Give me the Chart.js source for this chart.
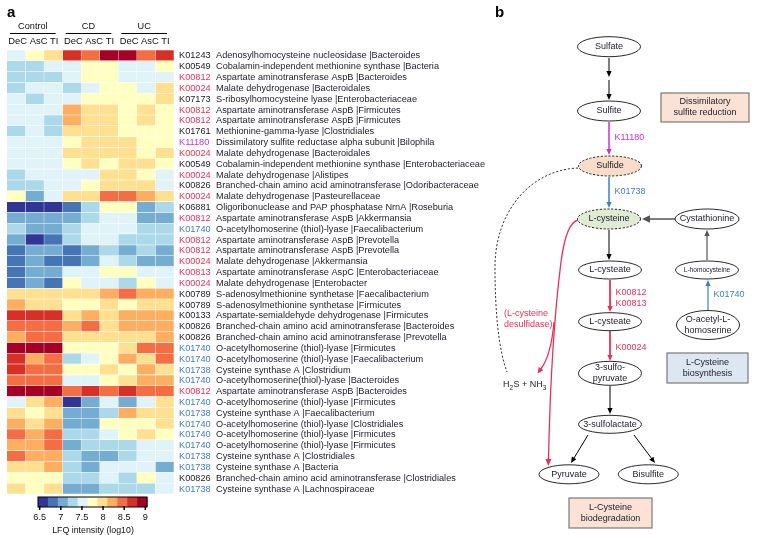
<!DOCTYPE html>
<html>
<head>
<meta charset="utf-8">
<script src="https://cdn.jsdelivr.net/npm/chart.js@4.4.1/dist/chart.umd.min.js"></script>
<style>
  html, body { margin: 0; padding: 0; background: #fff; }
  #wrap { position: relative; width: 775px; height: 535px; }
  #heat { position: absolute; left: 0; top: 0; }
  #path { position: absolute; left: 490px; top: 0; }
</style>
</head>
<body>
<div id="wrap">
  <canvas id="heat" width="490" height="535"></canvas>
  <canvas id="path" width="285" height="535"></canvas>
</div>
<script>
// Columnas de la matriz (log10 LFQ intensity)
const groups = ['Control', 'CD', 'UC'];
const sites = ['DeC', 'AsC', 'TI'];

const rowKO = ['K01243','K00549','K00812','K00024','K07173','K00812','K00812','K01761','K11180','K00024',
  'K00549','K00024','K00826','K00024','K06881','K00812','K01740','K00812','K00812','K00024',
  'K00813','K00024','K00789','K00789','K00133','K00826','K00826','K01740','K01740','K01738',
  'K01740','K00812','K01740','K01738','K01740','K01740','K01740','K01738','K01738','K00826','K01738'];

const rowNames = [
  'Adenosylhomocysteine nucleosidase |Bacteroides',
  'Cobalamin-independent methionine synthase |Bacteria',
  'Aspartate aminotransferase AspB |Bacteroides',
  'Malate dehydrogenase |Bacteroidales',
  'S-ribosylhomocysteine lyase |Enterobacteriaceae',
  'Aspartate aminotransferase AspB |Firmicutes',
  'Aspartate aminotransferase AspB |Firmicutes',
  'Methionine-gamma-lyase |Clostridiales',
  'Dissimilatory sulfite reductase alpha subunit |Bilophila',
  'Malate dehydrogenase |Bacteroidales',
  'Cobalamin-independent methionine synthase |Enterobacteriaceae',
  'Malate dehydrogenase |Alistipes',
  'Branched-chain amino acid aminotransferase |Odoribacteraceae',
  'Malate dehydrogenase |Pasteurellaceae',
  'Oligoribonuclease and PAP phosphatase NrnA |Roseburia',
  'Aspartate aminotransferase AspB |Akkermansia',
  'O-acetylhomoserine (thiol)-lyase |Faecalibacterium',
  'Aspartate aminotransferase AspB |Prevotella',
  'Aspartate aminotransferase AspB |Prevotella',
  'Malate dehydrogenase |Akkermansia',
  'Aspartate aminotransferase AspC |Enterobacteriaceae',
  'Malate dehydrogenase |Enterobacter',
  'S-adenosylmethionine synthetase |Faecalibacterium',
  'S-adenosylmethionine synthetase |Firmicutes',
  'Aspartate-semialdehyde dehydrogenase |Firmicutes',
  'Branched-chain amino acid aminotransferase |Bacteroides',
  'Branched-chain amino acid aminotransferase |Prevotella',
  'O-acetylhomoserine (thiol)-lyase |Firmicutes',
  'O-acetylhomoserine (thiol)-lyase |Faecalibacterium',
  'Cysteine synthase A |Clostridium',
  'O-acetylhomoserine(thiol)-lyase |Bacteroides',
  'Aspartate aminotransferase AspB |Bacteroides',
  'O-acetylhomoserine (thiol)-lyase |Firmicutes',
  'Cysteine synthase A |Faecalibacterium',
  'O-acetylhomoserine (thiol)-lyase |Clostridiales',
  'O-acetylhomoserine (thiol)-lyase |Firmicutes',
  'O-acetylhomoserine (thiol)-lyase |Firmicutes',
  'Cysteine synthase A |Clostridiales',
  'Cysteine synthase A |Bacteria',
  'Branched-chain amino acid aminotransferase |Clostridiales',
  'Cysteine synthase A |Lachnospiraceae'
];

const controlDeC = [7.5,7.3,7.3,7.3,7.5,7.5,7.5,7.3,7.5,7.5,7.5,7.3,7.3,7.75,6.6,7.05,7.3,7.05,6.85,6.85,6.85,6.85,8.0,8.2,8.65,8.45,8.2,8.9,8.65,8.65,8.45,8.9,7.5,8.0,8.2,8.45,8.2,8.45,8.0,7.75,8.0];
const controlAsC = [7.75,7.3,7.3,7.5,7.3,7.5,7.5,7.5,7.5,7.5,7.5,7.5,7.3,7.05,6.6,7.05,7.05,6.6,7.05,7.05,7.05,7.05,8.0,8.0,8.65,8.45,8.45,8.9,8.2,8.45,8.45,8.9,8.0,7.75,8.0,8.2,8.2,8.2,8.0,7.75,7.75];
const controlTI  = [8.0,7.5,7.3,7.5,7.5,7.5,7.3,7.3,7.5,7.5,7.5,7.5,7.5,7.5,6.6,7.05,7.05,6.85,7.05,6.85,7.05,6.85,8.0,8.0,8.65,8.45,8.45,8.9,8.45,8.45,8.45,8.9,8.2,8.0,8.2,8.45,8.45,8.2,8.2,7.75,8.0];
const cdDeC = [8.65,7.5,7.5,7.3,7.5,8.2,8.2,8.0,7.75,8.0,7.75,7.5,7.5,8.0,6.85,7.05,7.3,7.3,6.85,6.85,7.5,7.75,8.0,7.75,8.0,8.2,8.0,7.75,7.3,7.75,7.5,8.45,6.6,7.05,7.05,7.3,7.05,7.3,7.3,7.3,7.05];
const cdAsC = [8.45,7.75,7.75,7.5,7.75,8.0,8.0,8.0,8.0,8.0,8.0,7.5,7.75,8.0,7.3,7.3,7.5,7.5,7.05,7.05,7.5,7.5,8.0,7.75,8.2,8.45,8.0,7.75,7.5,7.75,7.5,8.65,7.05,7.05,7.05,7.3,7.3,7.05,7.05,7.3,7.05];
const cdTI  = [8.9,7.75,7.75,7.75,7.75,8.0,8.0,8.0,8.0,8.0,7.75,8.0,8.0,8.45,7.75,7.5,7.5,7.5,7.3,7.5,7.75,7.5,8.2,8.0,8.0,8.0,8.0,7.75,7.75,8.0,7.75,8.45,7.5,7.3,7.75,7.5,7.3,7.05,7.5,7.5,7.3];
const ucDeC = [8.9,7.5,7.5,7.75,7.75,7.75,7.75,7.75,8.0,8.0,8.0,8.0,8.0,8.45,7.75,7.5,7.5,7.3,7.05,7.3,7.75,7.3,8.45,7.75,8.2,8.2,8.0,8.0,8.2,7.75,8.0,8.65,7.05,8.2,7.75,7.75,7.3,7.3,7.5,7.3,7.3];
const ucAsC = [8.45,7.5,7.5,7.5,7.75,8.0,8.0,7.75,7.75,7.75,8.0,7.75,8.0,8.2,7.05,7.05,7.3,7.3,7.3,7.05,7.5,7.75,8.2,8.0,8.2,8.2,8.0,8.45,8.0,8.2,8.2,8.45,7.5,8.0,7.75,8.0,7.5,7.5,7.5,7.75,7.3];
const ucTI  = [8.65,7.75,7.5,8.0,8.0,7.75,7.75,7.75,7.75,8.0,7.75,7.5,7.5,8.0,7.3,7.05,7.3,7.3,7.05,7.05,7.5,7.5,8.2,8.0,8.2,8.2,8.2,8.45,8.45,8.0,8.2,8.45,8.0,8.0,8.0,7.75,7.5,7.5,7.05,7.5,7.5];

const columns = [controlDeC, controlAsC, controlTI, cdDeC, cdAsC, cdTI, ucDeC, ucAsC, ucTI];

// escala de color (RdYlBu invertida, 11 clases)
const palette = ['#313695','#4575b4','#74add1','#abd9e9','#e0f3f8','#ffffbf','#fee090','#fdae61','#f46d43','#d73027','#a50026'];
const cbMin = 6.46, cbMax = 9.04;
const cbTicks = [6.5, 7, 7.5, 8, 8.5, 9];

const FONT = '"Liberation Sans", Arial, sans-serif';
const RED = '#ec2f55', BLUE = '#3f7dc9', MAGENTA = '#cf2fd0';

function colorFor(v) {
  let k = Math.floor((v - cbMin) / ((cbMax - cbMin) / palette.length));
  k = Math.max(0, Math.min(palette.length - 1, k));
  return palette[k];
}

function koColor(ko) {
  if (ko === 'K00812' || ko === 'K00024' || ko === 'K00813') return RED;
  if (ko === 'K11180') return MAGENTA;
  if (ko === 'K01740' || ko === 'K01738') return BLUE;
  return '#1c1c2a';
}

const heatDecor = {
  id: 'heatDecor',
  afterDraw(chart) {
    const ctx = chart.ctx;
    const xs = chart.scales.x, ys = chart.scales.y;
    ctx.save();
    ctx.fillStyle = '#000';
    ctx.font = 'bold 15px ' + FONT;
    ctx.textAlign = 'left';
    ctx.textBaseline = 'alphabetic';
    ctx.fillText('a', 7, 17);

    // cabeceras de grupos
    groups.forEach((g, gi) => {
      const x0 = xs.getPixelForValue(gi * 3);
      const x1 = xs.getPixelForValue(gi * 3 + 3);
      const cx = (x0 + x1) / 2;
      ctx.font = '9.2px ' + FONT;
      ctx.textAlign = 'center';
      ctx.textBaseline = 'middle';
      ctx.fillStyle = '#111';
      ctx.fillText(g, cx - 2, 26);
      ctx.strokeStyle = '#000';
      ctx.lineWidth = 1;
      ctx.beginPath();
      ctx.moveTo(x0 + 3, 33.5);
      ctx.lineTo(x1 - 7, 33.5);
      ctx.stroke();
      ctx.font = '9.4px ' + FONT;
      ctx.fillText(sites.join(' '), cx - 1.5, 41.5);
    });

    // etiquetas de filas
    ctx.font = '9.2px ' + FONT;
    ctx.textAlign = 'left';
    ctx.textBaseline = 'middle';
    rowKO.forEach((ko, i) => {
      const yc = ys.getPixelForValue(i) + 0.5;
      ctx.fillStyle = koColor(ko);
      ctx.fillText(ko, 179, yc);
      ctx.fillStyle = '#1c1c2a';
      ctx.fillText(rowNames[i], 216, yc);
    });

    // barra de color
    const bx0 = 38, bx1 = 147, by0 = 497, by1 = 507;
    const bw = (bx1 - bx0) / palette.length;
    palette.forEach((c, k) => {
      ctx.fillStyle = c;
      ctx.fillRect(bx0 + k * bw, by0, bw + 0.5, by1 - by0);
    });
    ctx.strokeStyle = '#000';
    ctx.lineWidth = 1;
    ctx.strokeRect(bx0, by0, bx1 - bx0, by1 - by0);
    ctx.font = '9.2px ' + FONT;
    ctx.textAlign = 'center';
    ctx.fillStyle = '#111';
    cbTicks.forEach(t => {
      const tx = bx0 + (t - cbMin) / (cbMax - cbMin) * (bx1 - bx0);
      ctx.lineWidth = 1.5;
      ctx.beginPath();
      ctx.moveTo(tx, by1 - 1);
      ctx.lineTo(tx, by1 + 3);
      ctx.stroke();
      ctx.fillText(String(t), tx, 517);
    });
    ctx.font = '8.8px ' + FONT;
    ctx.fillText('LFQ intensity (log10)', 93, 531);
    ctx.restore();
  }
};

new Chart(document.getElementById('heat'), {
  type: 'bar',
  data: {
    labels: rowKO.map((k, i) => i),
    datasets: columns.map((col, c) => ({
      label: groups[Math.floor(c / 3)] + ' ' + sites[c % 3],
      data: col.map(() => 1),
      backgroundColor: col.map(v => colorFor(v)),
      borderColor: 'rgba(255,255,255,0.35)',
      borderWidth: 0.6,
      barPercentage: 1,
      categoryPercentage: 1
    }))
  },
  options: {
    indexAxis: 'y',
    responsive: false,
    animation: false,
    layout: { padding: { left: 7, top: 50, right: 316, bottom: 41 } },
    plugins: { legend: { display: false }, tooltip: { enabled: false } },
    scales: {
      x: { type: 'linear', stacked: true, min: 0, max: 9, display: false },
      y: { type: 'category', stacked: true, display: false, offset: true }
    }
  },
  plugins: [heatDecor]
});

// Panel b: ruta metabólica
const nodeNames = ['Sulfate','Sulfite','Sulfide','L-cysteine','Cystathionine','L-cysteate','L-homocysteine',
  'L-cysteate','O-acetyl-L-|homoserine','3-sulfo-|pyruvate','3-sulfolactate','Pyruvate','Bisulfite'];
const nodeLayout = [
  { x: 119, y: 46.7, w: 63, h: 20 },
  { x: 119, y: 111, w: 63, h: 20 },
  { x: 120, y: 166, w: 63, h: 20, fill: '#f9ddc9', dash: true },
  { x: 119, y: 219, w: 63, h: 20, fill: '#e0ebd5', dash: true },
  { x: 217, y: 219, w: 64, h: 20 },
  { x: 120, y: 270, w: 63, h: 18 },
  { x: 217, y: 270, w: 63, h: 18, small: true },
  { x: 120, y: 321.7, w: 63, h: 18 },
  { x: 218, y: 325, w: 63, h: 29 },
  { x: 120, y: 373.3, w: 63, h: 24 },
  { x: 120, y: 424.3, w: 63, h: 18 },
  { x: 79, y: 474.3, w: 60, h: 19 },
  { x: 158.3, y: 474.3, w: 60, h: 19 }
];
const arrows = [
  { p: [119, 58, 119, 77], c: '#000' },
  { p: [119, 80, 119, 100], c: '#000' },
  { p: [119, 122, 119, 155], c: MAGENTA, w: 1.5, lab: ['K11180'], ly: 138 },
  { p: [119, 177, 119, 208], c: BLUE, w: 1.5, lab: ['K01738'], ly: 192 },
  { p: [185, 219, 152, 219], c: '#555', w: 1.5, big: true },
  { p: [119, 230, 119, 260], c: '#000' },
  { p: [217, 260, 217, 230], c: '#555', w: 1.2 },
  { p: [120, 280, 120, 312], c: RED, w: 1.8, lab: ['K00812', 'K00813'], ly: 293 },
  { p: [218, 310, 218, 280], c: BLUE, w: 1.2, lab: ['K01740'], ly: 295 },
  { p: [120, 331, 120, 361], c: RED, w: 1.8, lab: ['K00024'], ly: 348 },
  { p: [120, 386, 120, 414], c: '#000' },
  { p: [98, 435, 81, 463], c: '#000' },
  { p: [144, 435, 165, 463], c: '#000' }
];
const boxes = [
  { x0: 171, y0: 93, x1: 259, y1: 122, fill: '#fbe2d4', text: ['Dissimilatory', 'sulfite reduction'] },
  { x0: 177, y0: 353, x1: 258, y1: 383, fill: '#dde7f2', text: ['L-Cysteine', 'biosynthesis'] },
  { x0: 79, y0: 498, x1: 162, y1: 528, fill: '#fbe2d4', text: ['L-Cysteine', 'biodegradation'] }
];

const pathDecor = {
  id: 'pathDecor',
  afterDraw(chart) {
    const ctx = chart.ctx;
    const xs = chart.scales.x, ys = chart.scales.y;
    const P = (x, y) => [xs.getPixelForValue(x), ys.getPixelForValue(y)];
    ctx.save();

    function head(x1, y1, x2, y2, color, len, hw) {
      const a = Math.atan2(y2 - y1, x2 - x1);
      ctx.fillStyle = color;
      ctx.beginPath();
      ctx.moveTo(x2, y2);
      ctx.lineTo(x2 - len * Math.cos(a) + hw * Math.sin(a), y2 - len * Math.sin(a) - hw * Math.cos(a));
      ctx.lineTo(x2 - len * Math.cos(a) - hw * Math.sin(a), y2 - len * Math.sin(a) + hw * Math.cos(a));
      ctx.closePath();
      ctx.fill();
    }

    ctx.fillStyle = '#000';
    ctx.font = 'bold 15px ' + FONT;
    ctx.textAlign = 'left';
    ctx.textBaseline = 'alphabetic';
    ctx.fillText('b', 5, 17);

    // cajas
    boxes.forEach(b => {
      const [x0, y0] = P(b.x0, b.y0), [x1, y1] = P(b.x1, b.y1);
      ctx.fillStyle = b.fill;
      ctx.fillRect(x0, y0, x1 - x0, y1 - y0);
      ctx.strokeStyle = '#7a7a7a';
      ctx.lineWidth = 1.2;
      ctx.strokeRect(x0, y0, x1 - x0, y1 - y0);
      ctx.fillStyle = '#1c1c2a';
      ctx.font = '9px ' + FONT;
      ctx.textAlign = 'center';
      ctx.textBaseline = 'middle';
      ctx.fillText(b.text[0], (x0 + x1) / 2, (y0 + y1) / 2 - 5.5);
      ctx.fillText(b.text[1], (x0 + x1) / 2, (y0 + y1) / 2 + 5.5);
    });

    // curva discontinua (sulfuro -> H2S)
    ctx.strokeStyle = '#222';
    ctx.lineWidth = 0.9;
    ctx.setLineDash([2.2, 1.8]);
    ctx.beginPath();
    let q = P(88, 168); ctx.moveTo(q[0], q[1]);
    let c1 = P(40, 170), c2 = P(5, 212), e = P(5, 267);
    ctx.bezierCurveTo(c1[0], c1[1], c2[0], c2[1], e[0], e[1]);
    c1 = P(5, 315); c2 = P(9, 350); e = P(17, 372);
    ctx.bezierCurveTo(c1[0], c1[1], c2[0], c2[1], e[0], e[1]);
    ctx.stroke();
    ctx.setLineDash([]);

    // curva roja (L-cysteine desulfidase)
    ctx.strokeStyle = RED;
    ctx.lineWidth = 1.3;
    ctx.beginPath();
    q = P(88, 220); ctx.moveTo(q[0], q[1]);
    c1 = P(76, 223); e = P(71, 262);
    ctx.quadraticCurveTo(c1[0], c1[1], e[0], e[1]);
    c1 = P(61, 340); e = P(58.5, 459);
    ctx.quadraticCurveTo(c1[0], c1[1], e[0], e[1]);
    ctx.stroke();
    let a1 = P(58.6, 455), a2 = P(58.3, 466);
    head(a1[0], a1[1], a2[0], a2[1], RED, 7, 3);
    ctx.beginPath();
    q = P(64, 322); ctx.moveTo(q[0], q[1]);
    c1 = P(61, 356); e = P(50.5, 369.5);
    ctx.quadraticCurveTo(c1[0], c1[1], e[0], e[1]);
    ctx.stroke();
    a1 = P(53, 366); a2 = P(47.5, 373.5);
    head(a1[0], a1[1], a2[0], a2[1], RED, 6, 2.8);

    ctx.fillStyle = RED;
    ctx.font = '9px ' + FONT;
    ctx.textAlign = 'left';
    ctx.textBaseline = 'middle';
    q = P(14, 313.5); ctx.fillText('(L-cysteine', q[0], q[1]);
    q = P(14, 324.5); ctx.fillText('desulfidase)', q[0], q[1]);

    // H2S + NH3
    ctx.fillStyle = '#1c1c2a';
    q = P(13, 385);
    let tx = q[0];
    const parts = [['H', 0], ['2', 1], ['S + NH', 0], ['3', 1]];
    parts.forEach(([s, sub]) => {
      ctx.font = (sub ? '6.5px ' : '9px ') + FONT;
      ctx.fillText(s, tx, q[1] + (sub ? 3 : 0));
      tx += ctx.measureText(s).width + (sub ? 0.5 : 0);
    });

    // flechas
    arrows.forEach(a => {
      const [x1, y1] = P(a.p[0], a.p[1]), [x2, y2] = P(a.p[2], a.p[3]);
      const len = a.big ? 8 : 6, hw = a.big ? 3.8 : 2.6;
      const ang = Math.atan2(y2 - y1, x2 - x1);
      ctx.strokeStyle = a.c;
      ctx.lineWidth = a.w || 1;
      ctx.beginPath();
      ctx.moveTo(x1, y1);
      ctx.lineTo(x2 - (len - 1) * Math.cos(ang), y2 - (len - 1) * Math.sin(ang));
      ctx.stroke();
      head(x1, y1, x2, y2, a.c, len, hw);
      if (a.lab) {
        ctx.fillStyle = a.c === '#555' ? '#000' : a.c;
        ctx.font = '9px ' + FONT;
        ctx.textAlign = 'left';
        ctx.textBaseline = 'middle';
        a.lab.forEach((t, k) => {
          const lp = P(a.p[0] + 5.5, a.ly + k * 11);
          ctx.fillText(t, lp[0], lp[1]);
        });
      }
    });

    // nodos (elipses)
    nodeLayout.forEach((n, i) => {
      const [cx, cy] = P(n.x, n.y);
      ctx.beginPath();
      ctx.ellipse(cx, cy, n.w / 2, n.h / 2, 0, 0, Math.PI * 2);
      ctx.fillStyle = n.fill || '#fff';
      ctx.fill();
      ctx.strokeStyle = '#111';
      ctx.lineWidth = 0.9;
      ctx.setLineDash(n.dash ? [2.2, 1.6] : []);
      ctx.stroke();
      ctx.setLineDash([]);
      ctx.fillStyle = '#1c1c2a';
      ctx.font = (n.small ? '6.6px ' : '9px ') + FONT;
      ctx.textAlign = 'center';
      ctx.textBaseline = 'middle';
      const lines = nodeNames[i].split('|');
      if (lines.length === 1) ctx.fillText(lines[0], cx, cy);
      else {
        ctx.fillText(lines[0], cx, cy - 5.5);
        ctx.fillText(lines[1], cx, cy + 5.5);
      }
    });
    ctx.restore();
  }
};

new Chart(document.getElementById('path'), {
  type: 'scatter',
  data: {
    datasets: [{
      label: 'nodes',
      data: nodeLayout.map(n => ({ x: n.x, y: n.y })),
      pointRadius: 0
    }]
  },
  options: {
    responsive: false,
    animation: false,
    layout: { padding: 0 },
    plugins: { legend: { display: false }, tooltip: { enabled: false } },
    scales: {
      x: { type: 'linear', min: 0, max: 285, display: false },
      y: { type: 'linear', min: 0, max: 535, reverse: true, display: false }
    }
  },
  plugins: [pathDecor]
});
</script>
</body>
</html>
